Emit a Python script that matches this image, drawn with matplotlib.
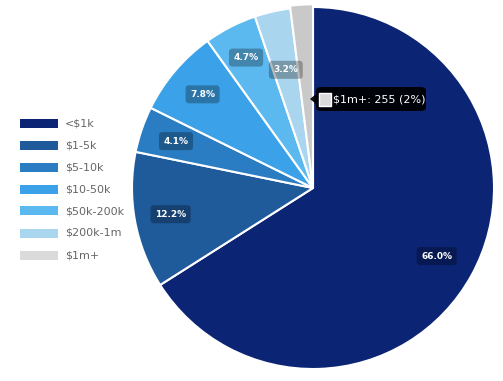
import numpy as np
import matplotlib
matplotlib.use('Agg')
import matplotlib.pyplot as plt
from matplotlib.patches import Rectangle, FancyBboxPatch, Polygon

# Data
categories = ['<$1k', '$1-5k', '$5-10k', '$10-50k', '$50k-200k', '$200k-1m', '$1m+']
counts = [8420, 1556, 523, 995, 600, 408, 255]
colors = ['#0b2473', '#1f5a9b', '#2a7cc3', '#3ba2e9', '#5cb9f0', '#a9d5ee', '#dadada']
slice_colors = colors[:-1] + ['#c9c9c9']  # last slice hovered
label_r = [0.78, 0.8, 0.8, 0.8, 0.81, 0.67, None]

fig = plt.figure(figsize=(5.03, 3.81), dpi=100)
W, H = 503, 381
cx, cy, r = 313, 188, 181
ax = fig.add_axes([(cx - r) / W, (H - cy - r) / H, 2 * r / W, 2 * r / H])

wedges, _ = ax.pie(counts, colors=slice_colors, startangle=90, counterclock=False,
                   radius=1, wedgeprops=dict(edgecolor='white', linewidth=1.5))
wedges[-1].set_radius(1.015)
ax.set_xlim(-1, 1)
ax.set_ylim(-1, 1)
ax.axis('off')

total = sum(counts)
for w, c, lr in zip(wedges, counts, label_r):
    if lr is None:
        continue
    ang = np.deg2rad((w.theta1 + w.theta2) / 2)
    x, y = lr * np.cos(ang), lr * np.sin(ang)
    ax.text(x, y, f'{100 * c / total:.1f}%', ha='center', va='center', color='white',
            fontsize=6.5, fontweight='bold',
            bbox=dict(boxstyle='round,pad=0.5,rounding_size=0.35', fc=(0, 0, 0, 0.28), ec='none'))

# Legend
for i, (cat, col) in enumerate(zip(categories, colors)):
    yy = 123 + 22 * i
    fig.patches.append(Rectangle((20 / W, 1 - (yy + 4.5) / H), 38 / W, 9 / H,
                                 transform=fig.transFigure, fc=col, ec='none'))
    fig.text(65 / W, 1 - yy / H, cat, ha='left', va='center', fontsize=8, color='#666666')

# Tooltip
tx0, ty0, tx1, ty1 = 316, 87, 426, 111
fig.patches.append(FancyBboxPatch((tx0 / W, 1 - ty1 / H), (tx1 - tx0) / W, (ty1 - ty0) / H,
                                  boxstyle='round,pad=0,rounding_size=0.01',
                                  transform=fig.transFigure, fc='#000000', ec='none', alpha=0.92))
fig.patches.append(Polygon([(310 / W, 1 - 99 / H), (316 / W, 1 - 94 / H), (316 / W, 1 - 104 / H)],
                           transform=fig.transFigure, fc='#000000', ec='none', alpha=0.92))
fig.patches.append(Rectangle((319 / W, 1 - 105.5 / H), 12 / W, 13 / H,
                             transform=fig.transFigure, fc=colors[-1], ec='white', lw=1))
last = counts[-1]
fig.text(333 / W, 1 - 99 / H, f'{categories[-1]}: {last} ({100 * last / total:.0f}%)',
         ha='left', va='center', fontsize=8, color='white')

fig.savefig('out.png', dpi=100)
